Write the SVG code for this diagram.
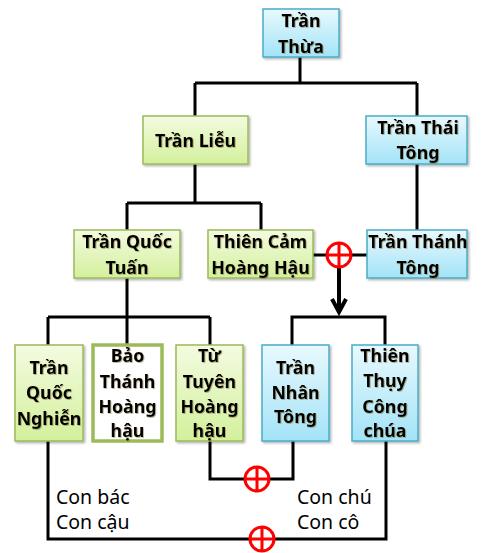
<svg xmlns="http://www.w3.org/2000/svg" width="486" height="553" viewBox="0 0 486 553">
<defs>
<linearGradient id="gGreen" x1="0" y1="0" x2="0" y2="1">
<stop offset="0" stop-color="#f3fbe0"/><stop offset="1" stop-color="#d3f09c"/>
</linearGradient>
<linearGradient id="gBlue" x1="0" y1="0" x2="0" y2="1">
<stop offset="0" stop-color="#e8f9fe"/><stop offset="1" stop-color="#a3e3f7"/>
</linearGradient>
<filter id="sh" x="-10%" y="-10%" width="130%" height="130%">
<feDropShadow dx="1.5" dy="1.5" stdDeviation="1" flood-color="#000" flood-opacity="0.3"/>
</filter>
<filter id="tsh" x="-10%" y="-20%" width="130%" height="150%">
<feDropShadow dx="0.8" dy="0.8" stdDeviation="0.4" flood-color="#7a6a3a" flood-opacity="0.6"/>
</filter>
<symbol id="plus" overflow="visible">
<circle cx="0" cy="0" r="12" fill="#fff" stroke="#f00" stroke-width="3"/>
<path d="M-12,0 H12 M0,-12 V12" stroke="#f00" stroke-width="3"/>
</symbol>
</defs>
<style>
.g{fill:url(#gGreen);stroke:#9bbb59;stroke-width:1.5;filter:url(#sh)}
.b{fill:url(#gBlue);stroke:#4bacc6;stroke-width:1.5;filter:url(#sh)}
.w{fill:#fff;stroke:#9bbb59;stroke-width:3.5}
.t{font-family:"Noto Sans",sans-serif;font-weight:bold;font-size:17.8px;fill:#000;text-anchor:middle;filter:url(#tsh)}
.n{font-family:"Noto Sans",sans-serif;font-size:19.5px;fill:#000}
.c{fill:none;stroke:#000;stroke-width:3}
.a{fill:none;stroke:#000;stroke-width:4}
</style>
<rect width="486" height="553" fill="#fff"/>
<g id="connectors">
<path class="c" d="M300,57 V83 M195,83 H417 M195,83 V116 M417,83 V116"/>
<path class="c" d="M417,164 V230"/>
<path class="c" d="M195,164 V203 M127,203 H261 M127,203 V230 M261,203 V230"/>
<path class="c" d="M127,278 V317 M48,317 H210 M48,317 V345 M127,317 V345 M210,317 V345"/>
<path class="c" d="M313,255 H367"/>
<path class="a" d="M339,266 V311"/>
<path class="a" d="M332,299 L339,312 L346,299" stroke-linejoin="miter"/>
<path class="c" d="M292,345 V317 H385 V345"/>
<path class="c" d="M210,441 V479 H293 V441"/>
<path class="c" d="M48,441 V539 H386 V441"/>
<use href="#plus" x="339" y="255"/>
<use href="#plus" x="257" y="479"/>
<use href="#plus" x="262" y="539"/>
</g>
<g id="tran-thua"><rect class="b" x="263" y="9" width="76" height="48"/><text class="t" x="301" y="27">Trần</text><text class="t" x="301" y="53">Thừa</text></g>
<g id="tran-lieu"><rect class="g" x="143" y="116" width="105" height="48"/><text class="t" x="195.5" y="147">Trần Liễu</text></g>
<g id="tran-thai-tong"><rect class="b" x="366" y="116" width="101" height="48"/><text class="t" x="418" y="134">Trần Thái</text><text class="t" x="418" y="159">Tông</text></g>
<g id="tran-quoc-tuan"><rect class="g" x="74" y="230" width="106" height="48"/><text class="t" x="127" y="248">Trần Quốc</text><text class="t" x="127" y="274">Tuấn</text></g>
<g id="thien-cam"><rect class="g" x="208" y="230" width="105" height="48"/><text class="t" x="260.5" y="248">Thiên Cảm</text><text class="t" x="260.5" y="274">Hoàng Hậu</text></g>
<g id="tran-thanh-tong"><rect class="b" x="367" y="230" width="100" height="48"/><text class="t" x="418" y="248">Trần Thánh</text><text class="t" x="418" y="274">Tông</text></g>
<g id="tran-quoc-nghien"><rect class="g" x="15" y="345" width="68" height="96"/><text class="t" x="49" y="374">Trần</text><text class="t" x="49" y="399">Quốc</text><text class="t" x="49" y="425">Nghiễn</text></g>
<g id="bao-thanh"><rect class="w" x="93" y="345" width="69" height="96"/><text class="t" x="127.5" y="362">Bảo</text><text class="t" x="127.5" y="388">Thánh</text><text class="t" x="127.5" y="413">Hoàng</text><text class="t" x="127.5" y="437">hậu</text></g>
<g id="tu-tuyen"><rect class="g" x="176" y="345" width="67" height="96"/><text class="t" x="209.5" y="362">Từ</text><text class="t" x="209.5" y="388">Tuyên</text><text class="t" x="209.5" y="413">Hoàng</text><text class="t" x="209.5" y="437">hậu</text></g>
<g id="tran-nhan-tong"><rect class="b" x="262" y="345" width="67" height="96"/><text class="t" x="295.5" y="374">Trần</text><text class="t" x="295.5" y="399">Nhân</text><text class="t" x="295.5" y="423">Tông</text></g>
<g id="thien-thuy"><rect class="b" x="352" y="345" width="66" height="96"/><text class="t" x="385" y="362">Thiên</text><text class="t" x="385" y="387">Thụy</text><text class="t" x="385" y="413">Công</text><text class="t" x="385" y="437">chúa</text></g>
<g id="labels">
<text class="n" x="56" y="504">Con bác</text>
<text class="n" x="56" y="529">Con cậu</text>
<text class="n" x="297" y="504">Con chú</text>
<text class="n" x="297" y="529">Con cô</text>
</g>
</svg>
